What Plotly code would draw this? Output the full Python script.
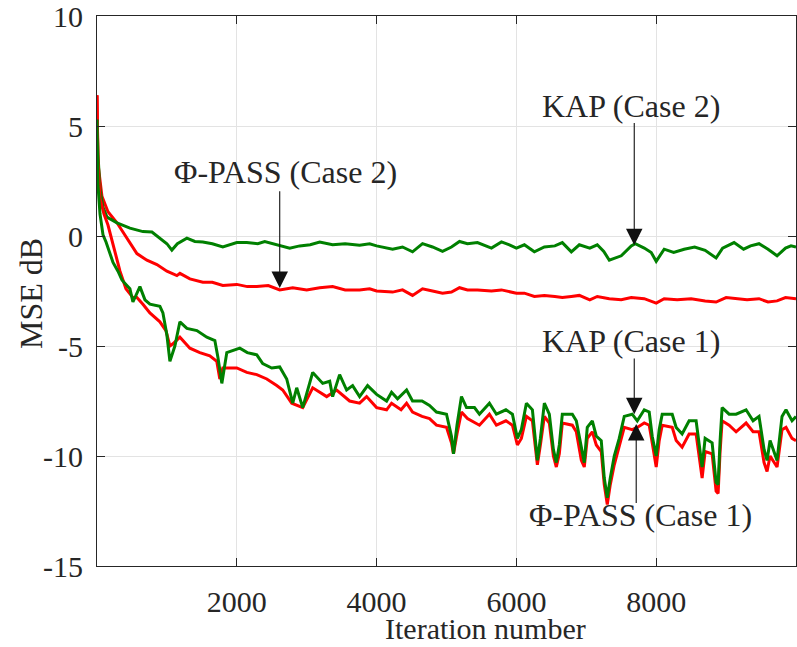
import plotly.graph_objects as go

# ---- MSE learning curves (dB) versus iteration number ----
kap_case2_iter = [0, 14, 43, 86, 143, 286, 471, 657, 786, 900, 1000, 1071, 1150, 1286, 1400, 1514,
                  1650, 1800, 1900, 2000, 2143, 2300, 2400, 2571, 2757, 2900, 3050, 3186, 3371,
                  3550, 3757, 3900, 4000, 4229, 4371, 4514, 4657, 4800, 4943, 5071, 5186, 5300,
                  5443, 5643, 5786, 5900, 6000, 6114, 6257, 6400, 6550, 6657, 6786, 6900, 7050,
                  7157, 7250, 7329, 7500, 7643, 7700, 7829, 7929, 8000, 8114, 8250, 8400, 8550,
                  8700, 8857, 8950, 9114, 9250, 9350, 9471, 9600, 9729, 9850, 9929, 10000]
kap_case2_mse = [5.3, 3.7, 2.1, 1.3, 0.86, 0.6, 0.36, 0.2, 0.18, -0.1, -0.35, -0.64, -0.35, -0.1,
                 -0.25, -0.27, -0.35, -0.5, -0.4, -0.3, -0.3, -0.35, -0.25, -0.41, -0.55, -0.45,
                 -0.4, -0.27, -0.4, -0.35, -0.42, -0.35, -0.45, -0.6, -0.5, -0.72, -0.35, -0.5,
                 -0.7, -0.5, -0.25, -0.35, -0.3, -0.55, -0.27, -0.4, -0.55, -0.4, -0.72, -0.5,
                 -0.45, -0.3, -0.72, -0.4, -0.55, -0.4, -0.7, -1.1, -0.9, -0.45, -0.35, -0.55,
                 -0.75, -1.15, -0.6, -0.75, -0.6, -0.5, -0.65, -1.0, -0.55, -0.3, -0.6, -0.45,
                 -0.35, -0.6, -0.9, -0.55, -0.45, -0.5]

pass_case2_iter = [0, 7, 14, 71, 157, 286, 429, 571, 714, 857, 1000, 1143, 1186, 1329, 1514, 1650,
                   1800, 2000, 2150, 2286, 2450, 2614, 2800, 3000, 3186, 3371, 3550, 3757, 3900,
                   4000, 4229, 4371, 4514, 4657, 4800, 4943, 5071, 5186, 5300, 5443, 5643, 5786,
                   6000, 6114, 6257, 6400, 6550, 6657, 6786, 6900, 7050, 7157, 7329, 7500, 7643,
                   7829, 8000, 8114, 8300, 8500, 8700, 8857, 9000, 9114, 9300, 9471, 9600, 9729,
                   9850, 10000]
pass_case2_mse = [6.4, 4.8, 3.3, 1.8, 1.1, 0.6, -0.1, -0.8, -1.1, -1.3, -1.6, -1.8, -1.7, -1.95,
                  -2.1, -2.1, -2.25, -2.2, -2.3, -2.3, -2.25, -2.45, -2.35, -2.45, -2.35, -2.3,
                  -2.45, -2.45, -2.4, -2.5, -2.55, -2.45, -2.7, -2.4, -2.5, -2.6, -2.55, -2.35,
                  -2.45, -2.45, -2.5, -2.45, -2.6, -2.6, -2.75, -2.7, -2.75, -2.8, -2.75, -2.7,
                  -2.9, -2.75, -2.85, -2.9, -2.8, -2.85, -3.05, -2.85, -2.9, -2.85, -2.95, -3.0,
                  -2.8, -2.85, -2.9, -2.85, -3.0, -2.95, -2.8, -2.85]

kap_case1_iter = [0, 7, 14, 43, 86, 129, 229, 300, 357, 414, 471, 514, 571, 614, 686, 757, 900,
                  943, 1000, 1043, 1114, 1186, 1286, 1429, 1571, 1686, 1729, 1786, 1857, 2043,
                  2150, 2286, 2371, 2500, 2614, 2714, 2800, 2857, 2943, 3086, 3229, 3329, 3371,
                  3471, 3571, 3657, 3757, 3871, 4000, 4143, 4214, 4300, 4429, 4514, 4650, 4757,
                  4857, 5000, 5071, 5100, 5150, 5214, 5286, 5400, 5471, 5614, 5714, 5850, 5943,
                  6014, 6071, 6143, 6229, 6271, 6300, 6343, 6400, 6471, 6529, 6571, 6614, 6657,
                  6800, 6857, 6929, 6971, 7014, 7086, 7143, 7214, 7257, 7300, 7343, 7400, 7471,
                  7543, 7657, 7729, 7829, 7900, 7943, 8000, 8043, 8086, 8229, 8286, 8371, 8471,
                  8571, 8614, 8657, 8700, 8800, 8857, 8886, 8914, 8943, 9043, 9143, 9286, 9386,
                  9471, 9543, 9586, 9629, 9729, 9800, 9857, 9943, 10000]
kap_case1_mse = [5.3, 3.5, 2.3, 1.0, 0.05, -0.27, -1.2, -1.6, -2.0, -2.2, -2.4, -3.0, -2.6, -2.3,
                 -2.9, -3.1, -3.2, -3.5, -4.5, -5.7, -5.0, -3.9, -4.2, -4.3, -4.6, -4.75, -5.5,
                 -6.7, -5.3, -5.1, -5.3, -5.4, -5.8, -6.0, -5.95, -6.5, -7.6, -6.9, -7.8, -6.2,
                 -6.7, -6.6, -7.3, -6.3, -7.0, -6.8, -7.3, -6.8, -7.2, -7.5, -7.1, -7.4, -7.0,
                 -7.5, -7.5, -7.7, -8.0, -8.1, -9.1, -9.9, -8.6, -7.3, -7.8, -7.8, -8.1, -7.6,
                 -8.1, -7.9, -8.1, -9.2, -8.8, -7.6, -7.9, -9.3, -10.2, -9.2, -7.6, -8.1, -9.7,
                 -10.3, -9.5, -8.1, -8.1, -8.4, -9.7, -10.3, -8.7, -8.4, -9.1, -9.3, -11.0, -11.9,
                 -11.0, -10.0, -9.2, -8.2, -8.1, -8.4, -7.9, -8.0, -9.1, -10.0, -8.8, -8.1, -8.1,
                 -8.7, -9.0, -8.4, -8.4, -9.6, -10.5, -9.2, -9.4, -11.2, -11.3, -9.3, -7.8, -8.1,
                 -8.1, -7.9, -8.4, -8.2, -9.7, -10.2, -9.3, -10.2, -8.2, -7.9, -8.4, -8.2]

pass_case1_iter = [0, 7, 14, 43, 100, 157, 229, 329, 414, 514, 571, 657, 757, 900, 986, 1043,
                   1086, 1186, 1329, 1471, 1614, 1714, 1757, 1800, 2000, 2143, 2286, 2429, 2571,
                   2657, 2786, 2943, 3086, 3286, 3429, 3614, 3757, 3857, 4000, 4143, 4214, 4350,
                   4429, 4514, 4650, 4757, 4857, 5000, 5071, 5100, 5150, 5214, 5300, 5471, 5614,
                   5714, 5850, 5943, 6014, 6071, 6143, 6229, 6271, 6300, 6343, 6400, 6471, 6529,
                   6571, 6614, 6657, 6800, 6857, 6929, 6971, 7014, 7086, 7143, 7214, 7257, 7300,
                   7343, 7400, 7471, 7543, 7657, 7729, 7829, 7900, 7943, 8000, 8043, 8086, 8229,
                   8286, 8371, 8471, 8571, 8614, 8657, 8700, 8800, 8857, 8886, 8914, 8943, 9043,
                   9143, 9286, 9386, 9471, 9543, 9586, 9629, 9729, 9800, 9857, 9943, 10000]
pass_case1_mse = [6.4, 4.8, 3.3, 1.7, 1.0, 0.5, -0.4, -1.6, -2.4, -2.8, -2.8, -3.1, -3.5, -3.9,
                  -4.3, -5.0, -4.9, -4.6, -5.1, -5.3, -5.45, -5.7, -6.5, -6.0, -6.0, -6.2, -6.3,
                  -6.5, -6.8, -7.0, -7.6, -7.8, -6.9, -7.3, -7.0, -7.5, -7.6, -7.3, -7.8, -7.9,
                  -7.6, -7.9, -7.6, -8.0, -8.2, -8.3, -8.6, -8.7, -9.4, -9.9, -9.0, -8.0, -8.3,
                  -8.6, -8.1, -8.6, -8.4, -8.6, -9.5, -9.2, -8.2, -8.4, -9.6, -10.4, -9.5, -8.2,
                  -8.5, -10.0, -10.5, -9.9, -8.5, -8.6, -8.9, -10.2, -10.5, -9.2, -8.9, -9.5,
                  -9.8, -11.3, -12.2, -11.3, -10.4, -9.6, -8.7, -8.8, -8.7, -8.5, -8.6, -9.4,
                  -10.5, -9.3, -8.6, -8.7, -9.3, -9.6, -9.0, -9.0, -10.0, -11.0, -9.8, -9.9, -11.6,
                  -11.7, -9.8, -8.4, -8.6, -8.9, -8.5, -8.9, -8.9, -10.3, -10.7, -10.0, -10.5,
                  -8.8, -8.7, -9.2, -9.3]

# axis ticks
x_ticks = [2000, 4000, 6000, 8000]
y_ticks = [-15, -10, -5, 0, 5, 10]
y_tick_text = ["-15", "-10", "-5", "0", "5", "10"]

# callouts: label, label position, arrow tail, arrow tip (iteration, dB)
callouts = [
    ("\u03a6-PASS (Case 2)", (2690, 2.9), (2614, 2.1), (2614, -2.36)),
    ("KAP (Case 2)", (7640, 5.9), (7686, 5.2), (7686, -0.42)),
    ("KAP (Case 1)", (7640, -4.75), (7686, -5.5), (7686, -8.1)),
    ("\u03a6-PASS (Case 1)", (7770, -12.7), (7714, -12.2), (7714, -8.55)),
]

RED = "#ff0000"
GREEN = "#008000"
INK = "#262626"
FONT = "Liberation Serif"

fig = go.Figure()
for xs, ys, col in [(pass_case2_iter, pass_case2_mse, RED),
                    (kap_case2_iter, kap_case2_mse, GREEN),
                    (pass_case1_iter, pass_case1_mse, RED),
                    (kap_case1_iter, kap_case1_mse, GREEN)]:
    fig.add_trace(go.Scatter(x=xs, y=ys, mode="lines",
                             line=dict(color=col, width=3), showlegend=False,
                             hoverinfo="skip"))

for label, (tx, ty), (ax_, ay_), (hx, hy) in callouts:
    fig.add_annotation(x=hx, y=hy, ax=ax_, ay=ay_, xref="x", yref="y",
                       axref="x", ayref="y", text="", showarrow=True,
                       arrowhead=2, arrowsize=3, arrowwidth=1.1, arrowcolor="#111111")
    fig.add_annotation(x=tx, y=ty, xref="x", yref="y", text=label, showarrow=False,
                       font=dict(family=FONT, size=32, color=INK))

# axis titles
fig.add_annotation(x=0.5565, y=-0.1473, xref="paper", yref="paper", text="Iteration number",
                   showarrow=False, xanchor="center", yanchor="bottom",
                   font=dict(family=FONT, size=30, color=INK))
fig.add_annotation(x=-0.0944, y=0.4945, xref="paper", yref="paper", text="MSE dB",
                   textangle=-90, showarrow=False, xanchor="center", yanchor="middle",
                   font=dict(family=FONT, size=32, color=INK))

axis_common = dict(showline=True, linecolor=INK, linewidth=1.2, mirror="ticks",
                   ticks="inside", ticklen=8, tickcolor=INK, tickwidth=1.2,
                   showgrid=True, gridcolor="#e3e3e3", gridwidth=1, zeroline=False,
                   automargin=False, ticklabeloverflow="allow",
                   tickfont=dict(family=FONT, size=30, color=INK))

fig.update_xaxes(range=[0, 10000], tickvals=x_ticks, ticklabelstandoff=9, **axis_common)
fig.update_yaxes(range=[-15, 10], tickvals=y_ticks, ticktext=y_tick_text,
                 ticklabelstandoff=7, **axis_common)

fig.update_layout(width=797, height=647, paper_bgcolor="white", plot_bgcolor="white",
                  margin=dict(l=97, r=1, t=16, b=81))

fig.write_html("out.html")
